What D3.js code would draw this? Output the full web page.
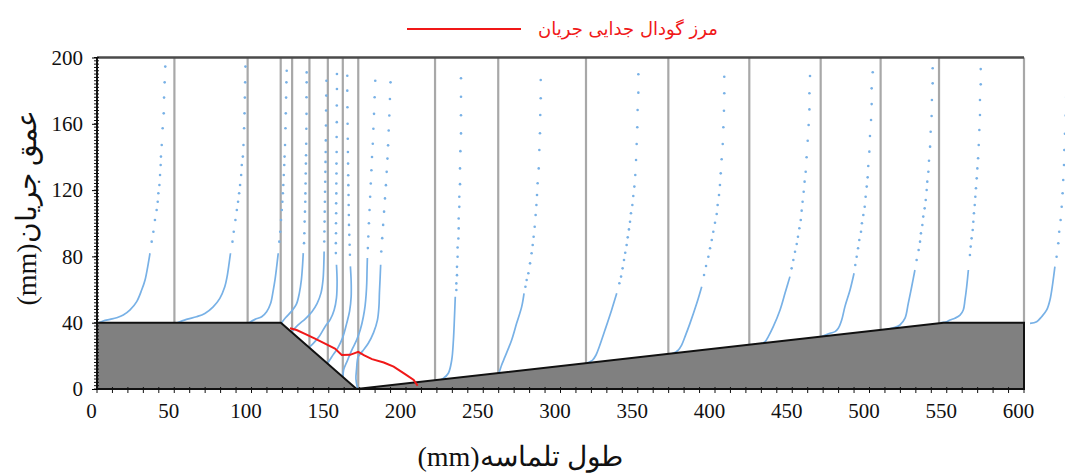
<!DOCTYPE html>
<html>
<head>
<meta charset="utf-8">
<script src="https://cdn.jsdelivr.net/npm/d3@7/dist/d3.min.js"></script>
<style>
  body { margin: 0; background: #fff; }
  svg { display: block; }
  .serif, .serif text { font-family: "Liberation Serif", "DejaVu Serif", "Times New Roman", serif !important; }
</style>
</head>
<body>
<svg id="chart" width="1065" height="473"></svg>
<script>
// ---- data (mm) ----
const xTicks = [0, 50, 100, 150, 200, 250, 300, 350, 400, 450, 500, 550, 600];
const yTicks = [0, 40, 80, 120, 160, 200];

// bed (dune) outline
const bedX = [0, 0, 119, 168, 548, 600, 600];
const bedZ = [0, 40, 40, 0, 40, 40, 0];

// measuring stations (grey verticals)
const stations = [50.1, 97.5, 118.9, 126.3, 137.5, 149.4, 159.1, 169.1, 218.8, 259.7, 316.5, 369.8, 422.2, 468.4, 507.2, 545, 600];

// velocity profiles: dense lower part (drawn as a line) and sparse upper dots, [x, z]
const lowerCurves = [
  [[0.2,39.6],[4,41],[8.4,42],[12.7,43],[17,44.6],[21.4,47.7],[25.7,52.7],[28.9,59.7],[31.1,65.8],[33.2,75.8],[34.3,81.9]],
  [[51.1,39.6],[57.9,42],[64.4,43.6],[69.8,45.6],[75.2,49.6],[79.5,54.7],[82.7,61.7],[84.2,67.8],[85.5,75.8],[86.4,81.9]],
  [[97.8,39.6],[102.3,42],[106.6,43.6],[109.8,46.6],[112.4,51.7],[114.1,59.7],[115.2,65.8],[116.3,73.8],[117.3,81.9]],
  [[119.5,40],[122,43],[126,47],[129,51],[131,58],[132.3,66],[133,74],[133.5,82]],
  [[126.5,35],[130,38.5],[135,42.5],[139,46.5],[142.5,51.7],[145,58],[146.3,66],[146.8,75],[147,83]],
  [[137.8,25.5],[140,27.5],[144,32],[147.6,37.6],[151,42],[153.5,47.7],[155,55],[155.4,65],[155,75]],
  [[149.6,16],[152,19.5],[156,25],[159,31],[161.6,39.6],[163.5,47],[164.5,55.7],[164.5,65],[164,74]],
  [[159.3,7.5],[159.6,11.5],[162,17],[164.9,23.5],[168.1,29.6],[170.5,36],[172.4,43.6],[173.5,50],[174.2,57],[174.6,64],[174.8,72],[175,79]],
  [[168.6,0.5],[167.6,6],[168,12],[169.1,19.5],[172,23],[175.6,27.6],[179,34],[181.5,41.6],[182.5,50],[182.8,58],[183.2,66],[183.6,75]],
  [[219,5.4],[221.6,5.4],[224.1,6.4],[227.4,9.5],[229.6,17.5],[230.7,29.6],[231.3,41.6],[231.9,55.7]],
  [[259.8,9.5],[260.4,10.4],[261.9,14.5],[264.1,19.5],[268.4,29.6],[271.6,39.6],[274.9,49.7],[276.4,57.7]],
  [[316.5,15.6],[319.1,16.5],[320.8,17.5],[323,20.5],[325.1,25.5],[328.8,35.6],[333.1,47.7],[336.4,57.7]],
  [[369.8,21.2],[370.9,21.1],[373,21.5],[376.2,23.5],[378.4,26.5],[380.6,31.6],[383.8,39.6],[388.2,51.7],[391.4,61.7]],
  [[422.4,26.8],[425.9,26.5],[429.1,27.1],[432.4,28.5],[434.5,31.6],[437.7,37.6],[442.1,47.7],[445.3,57.7],[448.5,67.8]],
  [[468.8,31.6],[474.4,33.6],[477.7,34.6],[479.8,36.6],[482,41.6],[484.1,49.7],[487.4,59.7],[490,69.8]],
  [[507.5,35.7],[508.9,35.6],[516.5,37.2],[519.7,38.6],[523,42.7],[525.1,51.7],[527.3,61.7],[529.4,71.8]],
  [[546,40],[550,40.6],[552.1,41.6],[555.3,42.7],[558.6,44.6],[560.7,47.7],[561.8,53.7],[562.9,61.7],[564,71.8]],
  [[603.9,39.6],[608.2,40.6],[611.4,43.6],[614.7,47.7],[616.8,53.7],[618.6,63.8],[620,73.8]]
];

const upperDots = [
  [[35.4,88.9],[36.5,94.9],[37.5,102],[38.6,108],[39.3,113],[39.7,118.1],[40.4,123.1],[40.8,129.1],[41.2,135.1],[41.4,140.2],[41.9,147.2],[42.5,157.3],[43.2,166.3],[43.4,175.8],[43.8,185],[44.2,194.5]],
  [[87.7,88.9],[88.5,94.9],[89.6,102],[90.5,108],[91.3,113],[92,118.1],[92.6,123.1],[93.3,129.1],[93.7,135.1],[94.4,140.2],[94.8,147.2],[95.2,157.3],[95.5,166.3],[95.7,175.8],[95.9,185],[96.1,194.5]],
  [[118,88.9],[118.6,94.9],[119.1,102],[119.6,108],[120,113],[120.3,118.1],[120.6,123.1],[120.9,129.1],[121.2,135.1],[121.4,140.2],[121.7,147.2],[122,157.3],[122.2,166.3],[122.4,175.8],[122.6,185],[122.8,192]],
  [[134,88],[134.2,94],[134.4,101],[134.6,107],[134.8,113],[134.9,118],[135,124],[135.1,130],[135.2,136],[135.3,141],[135.4,148],[135.5,157],[135.6,166],[135.6,176],[135.7,185],[135.7,191]],
  [[147.1,89],[147.2,95],[147.3,101],[147.4,107],[147.5,113],[147.6,119],[147.7,125],[147.8,131],[147.9,137],[148,143],[148.1,150],[148.2,159],[148.3,168],[148.4,177],[148.5,186]],
  [[154.6,82],[154.6,88],[154.7,94],[154.7,100],[154.8,106],[154.8,112],[154.9,118],[154.9,124],[155,130],[155,136],[155.1,143],[155.1,152],[155.2,161],[155.2,171],[155.3,181],[155.3,190]],
  [[163.7,81],[163.5,87],[163.3,93],[163.1,99],[163,105],[162.9,111],[162.8,117],[162.7,123],[162.6,129],[162.5,136],[162.4,143],[162.3,151],[162.2,160],[162.1,170],[162,180],[162,189]],
  [[175.3,85],[175.6,92],[176,100],[176.4,108],[176.8,116],[177.2,124],[177.6,132],[178,140],[178.5,148],[178.9,157],[179.3,166],[179.7,176],[180.1,186]],
  [[184,83],[184.6,91],[185.2,99],[185.8,107],[186.4,115],[187,123],[187.5,131],[188,139],[188.4,147],[188.8,156],[189.2,165],[189.6,175],[190,185]],
  [[232.6,59.7],[232.6,63.7],[233,68.7],[233,73.7],[233.4,79.8],[233.4,85.4],[233.9,90.8],[234.1,96.9],[234.1,102.9],[234.5,109.9],[234.5,116],[234.95,123.6],[234.95,133.1],[235.2,143.5],[235.6,154.2],[235.6,165.2],[235.6,176.3],[235.6,187.5]],
  [[277.3,61.7],[278.1,65.8],[279.2,69.8],[280.3,75.8],[281.3,81.9],[282,86.9],[282.6,91.9],[283.3,97.9],[283.9,105],[284.4,111],[284.8,117],[285.2,124.1],[285.9,133.1],[286.3,144.2],[286.7,154.3],[286.9,165.3],[287.2,175.4],[287.2,186.4]],
  [[338.1,63.8],[339.2,67.8],[340.2,72.8],[341.1,77.8],[341.9,82.2],[342.8,86.9],[343.5,91.5],[344.3,96.3],[345,100.9],[345.6,106],[346.5,111],[347.1,116.4],[347.8,122.1],[348.4,129.1],[348.9,138.2],[349.3,147.8],[349.7,157.9],[349.9,168.3],[350.4,178.8],[350.4,189.9]],
  [[392.9,68.8],[394.2,74.2],[395.7,79.8],[396.8,84.9],[397.9,89.9],[398.9,94.9],[400,100.3],[401.1,105.6],[401.7,111],[402.6,117],[403.2,123.1],[403.7,130.1],[404.3,138.6],[405,147.8],[405.4,157.9],[405.8,167.9],[406,178.4],[406,188.4]],
  [[449.6,72.8],[450.7,77.8],[451.8,82.8],[452.9,87.5],[453.7,91.9],[454.6,97],[455.5,102],[456.1,107.6],[456.7,113],[457.4,119],[458,125.1],[458.7,131.1],[459.3,139.8],[460,149.8],[460.6,159.3],[461.1,168.7],[461.1,178.4],[461.5,188.8]],
  [[490.8,74.8],[491.7,79.8],[492.6,84.9],[493.4,89.9],[494.5,94.9],[495.1,100],[496,105],[496.9,110],[497.5,116],[498.2,122.1],[498.8,127.7],[499.2,134.5],[499.9,143.2],[500.3,152.6],[501,162.3],[501.4,171.9],[501.4,181.4],[502.1,191.1]],
  [[530.5,77.8],[531.8,83.9],[532.7,88.9],[533.3,93.9],[534.2,98.9],[534.8,104],[535.7,109],[536.4,114],[537,120.1],[537.4,125.1],[538.1,131.1],[538.5,137.7],[539.2,146.2],[539.6,155.2],[540.2,164.7],[540.4,174.4],[540.9,184.4],[540.9,193.5]],
  [[565,80.8],[565.5,85.9],[566.1,90.9],[566.8,95.9],[567.2,100.9],[567.6,106],[568.1,111],[568.5,116],[568.9,121.1],[569.4,127.1],[569.8,133.1],[570.3,139.2],[570.7,147.2],[571.1,156.3],[571.5,165.3],[571.5,174.4],[572,183.8],[572,193]],
  [[621.1,79.8],[622.2,87.9],[622.8,94.9],[623.7,102],[624.4,110],[625,118.1],[625.4,126.1],[625.9,135.1],[626.1,144.2],[626.5,154],[627,165],[627.3,176],[627.6,186]]
];

// flow separation zone boundary (red)
const separationX = [124.9, 129.2, 134.6, 141.1, 147.6, 154, 158.4, 163.8, 169.1, 173, 178, 185.6, 192, 199.4, 205, 207.5];
const separationZ = [36.6, 35.6, 33.2, 30.4, 27.4, 24.4, 20.5, 20.6, 22.4, 20.3, 18, 16, 13.5, 9, 5.5, 2];

const legendLabel = "مرز گودال جدایی جریان";
const xTitle = "طول تلماسه(mm)";
const yTitle = "عمق جریان(mm)";

// ---- scales ----
const svg = d3.select("#chart");
const x = d3.scaleLinear().domain([0, 600]).range([97, 1024]);
const y = d3.scaleLinear().domain([0, 200]).range([389, 57.5]);

// bed surface height at a given x (top edge of the dune outline)
function bedAt(xv) {
  for (let i = 1; i < bedX.length - 2; i++) {
    const x0 = bedX[i], x1 = bedX[i + 1];
    if (xv >= x0 && xv <= x1) {
      const t = x1 === x0 ? 0 : (xv - x0) / (x1 - x0);
      return bedZ[i] + t * (bedZ[i + 1] - bedZ[i]);
    }
  }
  return 40;
}

// station verticals
svg.append("g").selectAll("line")
  .data(stations)
  .join("line")
  .attr("x1", d => x(d)).attr("x2", d => x(d))
  .attr("y1", y(200)).attr("y2", d => y(bedAt(d)))
  .attr("stroke", "#a8a8a8")
  .attr("stroke-width", 2.2);

// top border (water surface)
svg.append("line")
  .attr("x1", x(0)).attr("x2", x(600))
  .attr("y1", y(200)).attr("y2", y(200))
  .attr("stroke", "#4a4a4a")
  .attr("stroke-width", 2.5);

// velocity profiles
const line = d3.line().x(d => x(d[0])).y(d => y(d[1])).curve(d3.curveCatmullRom);
const blue = "#78b1e6";

svg.append("g").selectAll("path")
  .data(lowerCurves)
  .join("path")
  .attr("d", line)
  .attr("fill", "none")
  .attr("stroke", blue)
  .attr("stroke-width", 1.7);

svg.append("g").selectAll("g")
  .data(upperDots)
  .join("g")
  .selectAll("circle")
  .data(d => d)
  .join("circle")
  .attr("cx", d => x(d[0]))
  .attr("cy", d => y(d[1]))
  .attr("r", 1.3)
  .attr("fill", blue);

// bed
const bedPts = bedX.map((v, i) => [x(v), y(bedZ[i])]);
svg.append("path")
  .attr("d", "M" + bedPts.join("L") + "Z")
  .attr("fill", "#808080")
  .attr("stroke", "#111")
  .attr("stroke-width", 2)
  .attr("stroke-linejoin", "miter");

// separation boundary
svg.append("path")
  .datum(separationX.map((v, i) => [v, separationZ[i]]))
  .attr("d", d3.line().x(d => x(d[0])).y(d => y(d[1])))
  .attr("fill", "none")
  .attr("stroke", "#f01818")
  .attr("stroke-width", 2);

// ---- axes ----
const serif = "Liberation Serif, DejaVu Serif, serif";

// minor ticks
svg.append("g").selectAll("line")
  .data(d3.range(0, 201, 2))
  .join("line")
  .attr("x1", x(0) - 3).attr("x2", x(0) + 2)
  .attr("y1", d => y(d)).attr("y2", d => y(d))
  .attr("stroke", "#111").attr("stroke-width", 1);

svg.append("g").selectAll("line")
  .data(d3.range(0, 601, 10))
  .join("line")
  .attr("x1", d => x(d)).attr("x2", d => x(d))
  .attr("y1", y(0) - 2).attr("y2", y(0) + 4)
  .attr("stroke", "#111").attr("stroke-width", 1);

svg.append("line")
  .attr("x1", x(0)).attr("x2", x(0))
  .attr("y1", y(0)).attr("y2", y(200))
  .attr("stroke", "#111").attr("stroke-width", 2);

const yAxis = svg.append("g")
  .attr("class", "serif")
  .attr("transform", `translate(${x(0)},0)`)
  .call(d3.axisLeft(y).tickValues(yTicks).tickSize(5).tickPadding(9));
yAxis.attr("font-family", serif).attr("font-size", 21);
yAxis.select(".domain").remove();
yAxis.selectAll("text").attr("fill", "#111");

const xAxis = svg.append("g")
  .attr("class", "serif")
  .attr("transform", `translate(0,${y(0)})`)
  .call(d3.axisBottom(x).tickValues(xTicks).tickSize(0).tickPadding(14));
xAxis.attr("font-family", serif).attr("font-size", 21);
xAxis.select(".domain").remove();
xAxis.selectAll("text").attr("dx", -6).attr("fill", "#111");

// axis titles
svg.append("text")
  .attr("class", "serif")
  .attr("x", 520).attr("y", 466)
  .attr("text-anchor", "middle")
  .attr("direction", "rtl")
  .attr("font-size", 28)
  .attr("fill", "#111")
  .text(xTitle);

svg.append("text")
  .attr("class", "serif")
  .attr("transform", "translate(36,208) rotate(-90)")
  .attr("text-anchor", "middle")
  .attr("direction", "rtl")
  .attr("font-size", 28)
  .attr("fill", "#111")
  .text(yTitle);

// legend
svg.append("line")
  .attr("x1", 407).attr("x2", 521)
  .attr("y1", 29).attr("y2", 29)
  .attr("stroke", "#f01818").attr("stroke-width", 2);

svg.append("text")
  .attr("x", 628).attr("y", 35)
  .attr("text-anchor", "middle")
  .attr("direction", "rtl")
  .attr("font-family", "DejaVu Sans, sans-serif")
  .attr("font-size", 18)
  .attr("fill", "#f01818")
  .text(legendLabel);
</script>
</body>
</html>
